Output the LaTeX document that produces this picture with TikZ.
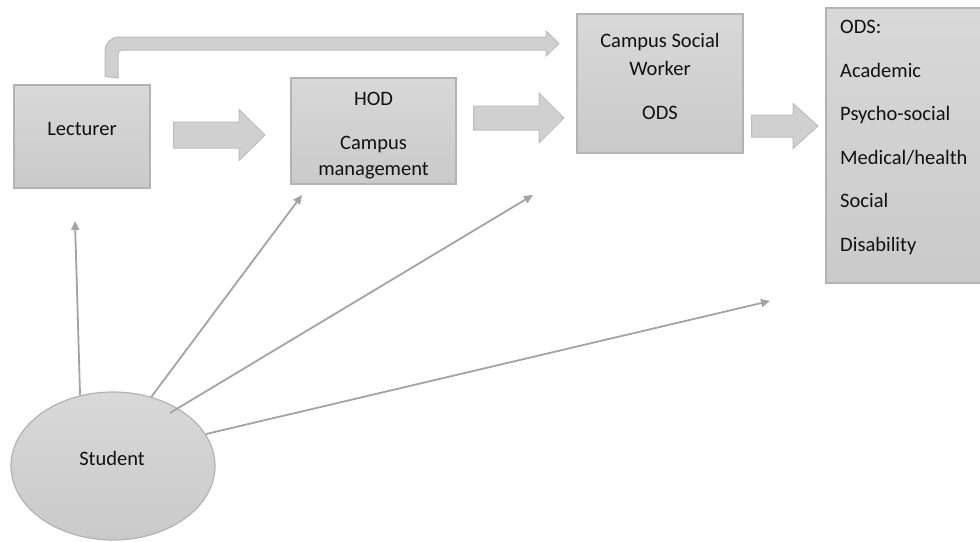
\documentclass[tikz,border=0pt]{standalone}
\usepackage{fontspec}
\setmainfont{Carlito}
\usetikzlibrary{arrows.meta,calc,shapes.geometric}

\definecolor{boxtop}{HTML}{D8D8D8}
\definecolor{boxbot}{HTML}{CACACA}
\definecolor{boxline}{HTML}{B3B3B3}
\definecolor{arrowfill}{HTML}{D0D0D0}
\definecolor{arrowline}{HTML}{BDBDBD}
\definecolor{thinline}{HTML}{A3A3A3}
\definecolor{ink}{HTML}{111111}

\tikzset{
  panel/.style={draw=boxline, line width=1.2pt, top color=boxtop, bottom color=boxbot,
    rectangle, inner sep=0pt},
  txt/.style={text=ink, font=\fontsize{20.5}{26}\selectfont, inner sep=0pt, anchor=base},
  blockarrow/.style={draw=arrowline, line width=1pt, fill=arrowfill, line join=miter},
  thinarrow/.style={draw=thinline, line width=1.8pt,
    -{Triangle[length=9pt,width=8pt]}},
}

% fat arrow: #1 start, #2 tip, #3 shaft half-width, #4 head half-width, #5 head length
\newcommand\fatarrow[5]{%
  \draw[blockarrow] let \p1=#1, \p2=#2 in
    (\x1,{\y2+#3pt}) -- ({\x2-#5pt},{\y2+#3pt}) -- ({\x2-#5pt},{\y2+#4pt}) -- (\x2,\y2)
    -- ({\x2-#5pt},{\y2-#4pt}) -- ({\x2-#5pt},{\y2-#3pt}) -- (\x1,{\y2-#3pt}) -- cycle;}

\begin{document}
\begin{tikzpicture}[x=1pt,y=-1pt]
\useasboundingbox (0,0) rectangle (980,541);

% boxes
\node[panel, minimum width=136pt, minimum height=103pt] (lect) at (82,136.5) {};
\node[panel, minimum width=165pt, minimum height=106pt] (hod) at (373.5,131) {};
\node[panel, minimum width=166pt, minimum height=139pt] (csw) at (660,83.5) {};
\node[panel, minimum width=162pt, minimum height=275pt] (ods) at (907,145.5) {};

% student
\node[panel, ellipse, minimum width=204pt, minimum height=148pt] (student) at (113,466) {};

% texts
\node[txt] (lecttxt) at (82,135) {Lecturer};
\begin{scope}
  \clip (hod.south west) rectangle (hod.north east);
  \node[txt] (hodtxt1) at (373.5,105) {HOD};
  \node[txt] (hodtxt2) at (373.5,149.5) {Campus};
  \node[txt] (hodtxt3) at (373.5,175) {management};
\end{scope}
\node[txt] (cswtxt1) at (660,47) {Campus Social};
\node[txt] (cswtxt2) at (660,75) {Worker};
\node[txt] (cswtxt3) at (660,119) {ODS};
\node[txt, anchor=base west] (ods1) at (840,33.5) {ODS:};
\node[txt, anchor=base west] (ods2) at (840,77) {Academic};
\node[txt, anchor=base west] (ods3) at (840,120.5) {Psycho-social};
\node[txt, anchor=base west] (ods4) at (840,164) {Medical/health};
\node[txt, anchor=base west] (ods5) at (840,207.5) {Social};
\node[txt, anchor=base west] (ods6) at (840,251) {Disability};
\node[txt] (studtxt) at (112,465) {Student};

% fat arrows between the boxes
\coordinate (a1s) at ($(lect.east)+(23,0)$);
\coordinate (a1e) at (265,135);
\fatarrow{(a1s)}{(a1e)}{13}{25.5}{26}
\coordinate (a2s) at ($(hod.east)+(17,0)$);
\coordinate (a2e) at (564,118);
\fatarrow{(a2s)}{(a2e)}{12}{25}{25}
\coordinate (a3s) at ($(csw.east)+(8,0)$);
\coordinate (a3e) at (818,126);
\fatarrow{(a3s)}{(a3e)}{11}{22.5}{25}

% bent arrow over the top
\coordinate (b0) at ($(lect.north)+(23,-8)$);
\draw[blockarrow] (b0) [rounded corners=14pt] -- (105,37) [sharp corners] -- (546,37) -- (546,31)
  -- (559,43.5) -- (546,56) -- (546,50) [rounded corners=4pt] -- (118,50) [sharp corners]
  -- (118,78) -- cycle;

% thin arrows out of the student
\coordinate (t1) at (75,221);
\coordinate (t2) at (302,195);
\coordinate (t3) at (533,195);
\coordinate (t4) at (770,301);
\draw[thinarrow] (student.115) -- (t1);
\draw[thinarrow] (student.61) -- (t2);
\draw[thinarrow] ($(student.center)!0.9!(student.43)$) -- (t3);
\draw[thinarrow] (student.19) -- (t4);
\end{tikzpicture}
\end{document}
